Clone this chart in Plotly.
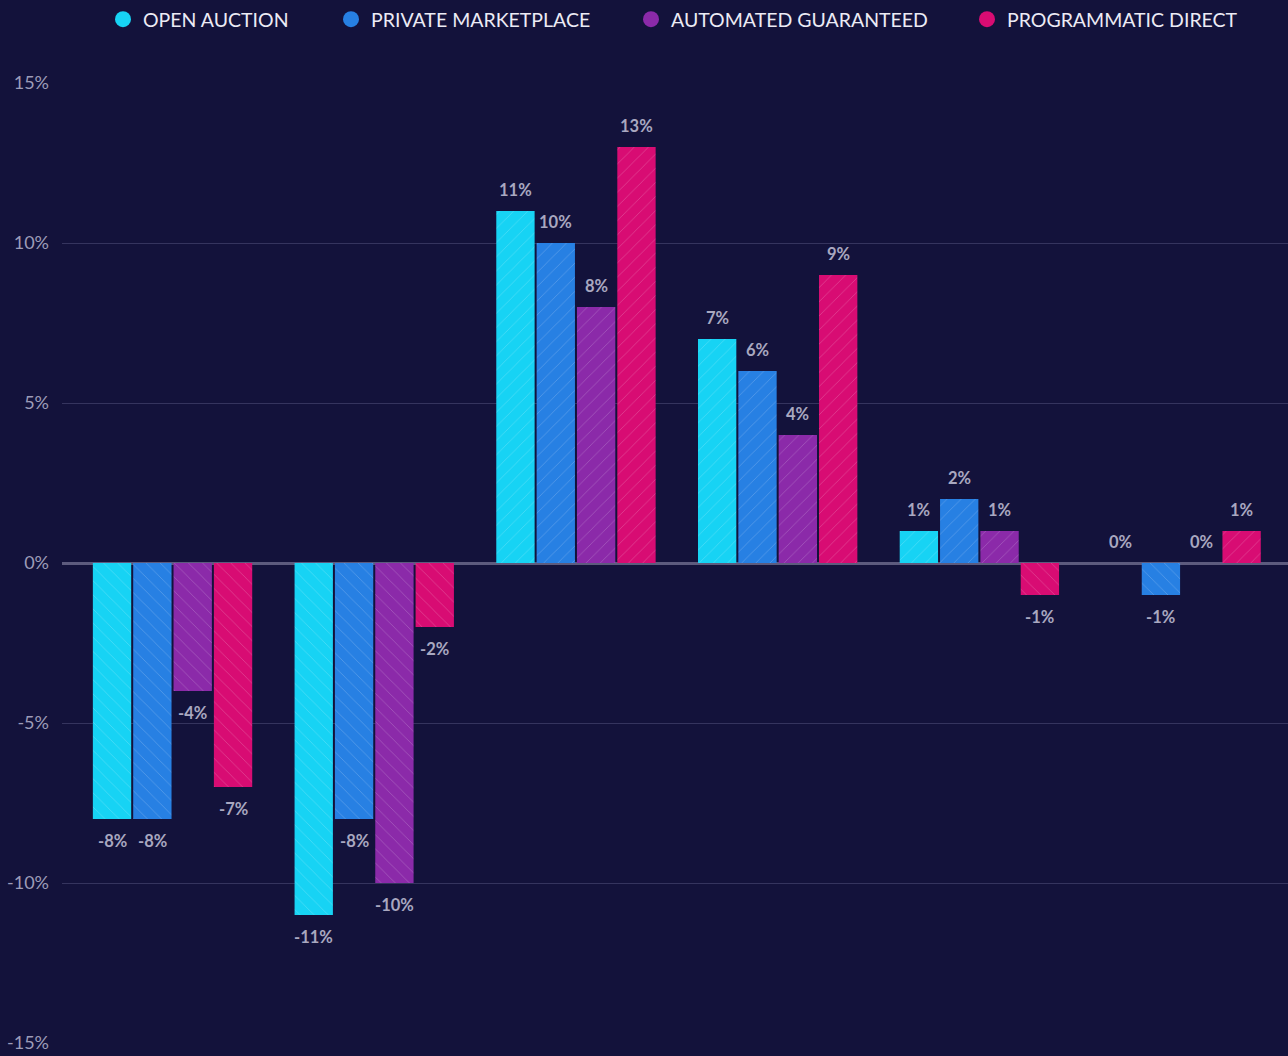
import plotly.graph_objects as go

groups = [0, 1, 2, 3, 4, 5]
series_names = ["OPEN AUCTION", "PRIVATE MARKETPLACE", "AUTOMATED GUARANTEED", "PROGRAMMATIC DIRECT"]
open_auction = [-8, -11, 11, 7, 1, 0]
private_marketplace = [-8, -8, 10, 6, 2, -1]
automated_guaranteed = [-4, -10, 8, 4, 1, 0]
programmatic_direct = [-7, -2, 13, 9, -1, 1]
colors = ["#17d3f4", "#2780e3", "#8b2aa9", "#d80c73"]
tick_vals = [-15, -10, -5, 0, 5, 10, 15]
tick_text = ["-15%", "-10%", "-5%", "0%", "5%", "10%", "15%"]

all_series = [open_auction, private_marketplace, automated_guaranteed, programmatic_direct]

BG = "#13123b"
BARGAP = 0.2
BARGROUPGAP = 0.05
W, H = 1288, 1056
legend_marker_px = [123, 351, 651, 987]

fig = go.Figure()
legend_ids = ["legend", "legend2", "legend3", "legend4"]
for name, vals, col, lid in zip(series_names, all_series, colors, legend_ids):
    fig.add_trace(go.Bar(
        x=groups, y=vals, name=name, showlegend=False,
        marker=dict(
            color=col, line=dict(width=0),
            pattern=dict(
                shape=["/" if v >= 0 else "\\" for v in vals],
                fillmode="overlay", fgcolor="#ffffff", fgopacity=0.22,
                size=10, solidity=0.08,
            ),
        ),
        hoverinfo="skip",
    ))
    fig.add_trace(go.Scatter(
        x=[None], y=[None], mode="markers", name=name, legend=lid,
        marker=dict(color=col, size=16, symbol="circle"),
    ))

# value labels
n = len(all_series)
slot = (1 - BARGAP) / n
for j, vals in enumerate(all_series):
    for i, v in zip(groups, vals):
        xpos = i - (1 - BARGAP) / 2 + (j + 0.5) * slot
        fig.add_annotation(
            x=xpos, y=v, text=f"{v}%", showarrow=False,
            yshift=21 if v >= 0 else -22,
            font=dict(family="Lato", size=16.5, color="#a9a8c0", weight="bold"),
        )

legend_style = dict(
    orientation="h", yref="container", y=1, yanchor="top", xref="container",
    xanchor="left",
    font=dict(family="Lato", size=19.5, color="#ecebf5"),
    itemsizing="trace", bgcolor="rgba(0,0,0,0)",
)
legends = {}
for lid, mx in zip(legend_ids, legend_marker_px):
    legends[lid] = dict(legend_style, x=(mx - 20) / W)

fig.update_layout(
    width=W, height=H,
    paper_bgcolor=BG, plot_bgcolor=BG,
    margin=dict(l=62, r=0, t=83, b=13),
    barmode="group", bargap=BARGAP, bargroupgap=BARGROUPGAP,
    xaxis=dict(
        range=[-0.548, 5.53], showgrid=False, showticklabels=False, zeroline=False,
        showline=False,
    ),
    yaxis=dict(
        range=[-15, 15], tickvals=tick_vals, ticktext=tick_text,
        showgrid=True, gridcolor="#35345e", gridwidth=1,
        zeroline=True, zerolinecolor="#5d5b7e", zerolinewidth=3,
        tickfont=dict(family="Lato", size=18, color="#9d9cb8"),
        ticklabelstandoff=12, showline=False,
    ),
    **legends,
)

fig.write_html(
    "out.html",
    config={"displayModeBar": False},
    post_script="document.body.style.margin='0';document.body.style.background='" + BG + "';",
)
